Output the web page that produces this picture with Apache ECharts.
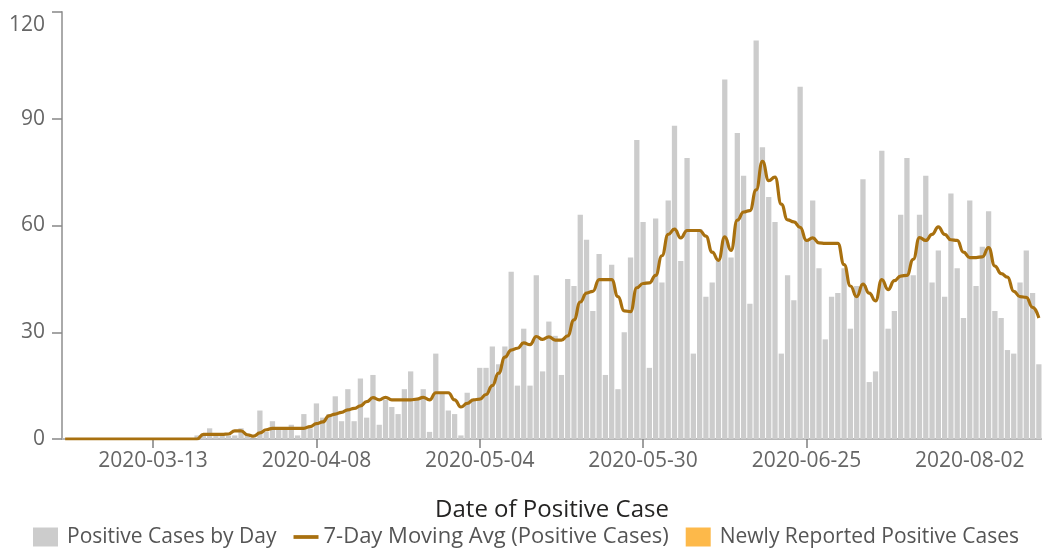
<!DOCTYPE html>
<html>
<head>
<meta charset="utf-8">
<style>
html,body{margin:0;padding:0;background:#fff;}
#chart{width:1042px;height:554px;}
</style>
<script src="https://cdn.jsdelivr.net/npm/echarts@6/dist/echarts.min.js"></script>
</head>
<body>
<div id="chart"></div>
<script>
// ---- data ----
var startDate = '2020-02-28';
var lastDate = '2020-08-13';
var skippedDates = ['2020-06-27','2020-06-28','2020-07-03','2020-07-04','2020-07-05','2020-07-11','2020-07-12','2020-07-18','2020-07-19','2020-07-25','2020-07-26','2020-08-01'];
var xTickLabels = ['2020-03-13','2020-04-08','2020-05-04','2020-05-30','2020-06-25','2020-08-02'];
var xTickMarks = ['2020-03-13','2020-04-08','2020-05-04','2020-05-30','2020-06-25'];
var yTicks = [0, 30, 60, 90, 120];

var positiveByDay = [
  0,0,0,0,0,0,0,0,0,0, 0,0,0,0,0,0,0,0,0,0,
  0,1,1,3,1,1,1,1,3,1, 0,8,2,5,3,3,4,1,7,3,
  10,6,7,12,5,14,5,17,6,18, 4,11,9,7,14,19,11,14,2,24,
  13,8,7,1,13,11,20,20,26,21, 26,47,15,31,15,46,19,33,29,18,
  45,43,63,56,36,52,18,49,14,30, 51,84,61,20,62,44,67,88,50,79,
  24,59,40,44,50,101,51,86,74,38, 112,82,68,61,24,46,39,99,56,67,
  48,28,40,41,48,31,43,73,16,19, 81,31,36,63,79,46,63,74,44,53,
  40,69,48,34,67,43,54,64,36,34, 25,24,44,53,41,21
];
var movingAvg7 = [
  0,0,0,0,0,0,0,0,0,0, 0,0,0,0,0,0,0,0,0,0,
  0,0,1.3,1.3,1.3,1.3,1.4,2.3,2.3,1.2, 0.8,1.7,2.6,3,3,3,3,3,3,3.5,
  4.3,4.8,6.5,7,7.5,8.2,8.6,9.3,10.5,11.6, 11,11.7,11,11,11,11,11.2,11.7,11,13,
  13,13,11,9,10,11,11.2,12.5,15,18.5, 23,25,25.5,27,26.5,28.8,28,28.7,27.8,27.8,
  29,33.5,38.5,41,41.5,44.8,44.8,44.8,40,36, 35.8,42.5,43.7,43.9,46,51.5,57.5,59,56.5,58.6,
  58.6,58.6,57,52.5,50.2,56.8,53,61.5,63.8,64.2, 70,78,72.6,73.6,66,61.6,61,59.5,55.8,56.5,
  55.1,55,55,55,49,43,40,43.5,41,38.8, 44.8,42,44.5,45.8,46,50.5,56.6,55.8,57.5,59.6,
  57.5,56,55.8,52.5,51,51,51.2,53.8,48.6,46.5, 45.5,41.5,40,39.8,37,34
];
var newlyReported = [];

// ---- categories (dates present in the data) ----
function buildDates(){
  var out = [];
  var d = new Date(startDate + 'T00:00:00Z');
  var end = new Date(lastDate + 'T00:00:00Z');
  while (d <= end) {
    var s = d.toISOString().slice(0,10);
    if (skippedDates.indexOf(s) < 0) out.push(s);
    d.setUTCDate(d.getUTCDate() + 1);
  }
  return out;
}
var categories = buildDates();

var font = 'Open Sans, Noto Sans, sans-serif';
var legendText = {fontFamily: font, fontSize: 21, color: '#555555', padding: [0,0,0,4]};
var chart = echarts.init(document.getElementById('chart'), null, {renderer:'canvas'});
chart.setOption({
  animation: false,
  backgroundColor: '#ffffff',
  textStyle: {fontFamily: font},
  grid: {left: 62, right: 0, top: 12, bottom: 115, containLabel: false},
  legend: {
    top: 526,
    left: 33,
    padding: 0,
    itemWidth: 25,
    itemHeight: 19,
    itemGap: 17,
    textStyle: legendText,
    data: [
      {name: 'Positive Cases by Day', icon: 'rect'},
      {name: '7-Day Moving Avg (Positive Cases)', icon: 'path://M0,0H20V3H0Z',
       textStyle: {fontFamily: font, fontSize: 22, color: '#555555', padding: [0,0,0,0]}},
      {name: 'Newly Reported Positive Cases', icon: 'rect'}
    ]
  },
  xAxis: {
    type: 'category',
    data: categories,
    boundaryGap: true,
    name: 'Date of Positive Case',
    nameLocation: 'middle',
    nameGap: 59,
    nameTextStyle: {fontFamily: font, fontSize: 24, color: '#252423'},
    axisLine: {lineStyle: {color: '#b8b8b8', width: 2}},
    axisTick: {
      show: true, alignWithLabel: true, length: 9,
      lineStyle: {color: '#808080', width: 1.5},
      interval: function(i, v){ return xTickMarks.indexOf(v) >= 0; }
    },
    axisLabel: {
      fontFamily: font, fontSize: 21, color: '#666666', margin: 12,
      interval: function(i, v){ return xTickLabels.indexOf(v) >= 0; }
    },
    splitLine: {show: false}
  },
  yAxis: {
    type: 'value',
    min: yTicks[0],
    max: yTicks[yTicks.length - 1],
    interval: yTicks[1] - yTicks[0],
    axisLine: {show: true, lineStyle: {color: '#aaaaaa', width: 2}},
    axisTick: {show: true, length: 10, lineStyle: {color: '#888888', width: 1.5}},
    splitLine: {show: false},
    axisLabel: {
      fontFamily: font, fontSize: 21, color: '#666666', margin: 17,
      formatter: function(v){ return v === yTicks[yTicks.length - 1] ? '{top|' + v + '}' : String(v); },
      rich: {top: {fontFamily: font, fontSize: 21, color: '#666666', padding: [26,0,0,0]}}
    }
  },
  series: [
    {
      name: 'Positive Cases by Day',
      type: 'bar',
      stack: 'cases',
      data: positiveByDay,
      barCategoryGap: '16%',
      itemStyle: {color: '#cccccc'},
      z: 2
    },
    {
      name: 'Newly Reported Positive Cases',
      type: 'bar',
      stack: 'cases',
      data: newlyReported,
      itemStyle: {color: '#fdb94a'},
      z: 2
    },
    {
      name: '7-Day Moving Avg (Positive Cases)',
      type: 'line',
      data: movingAvg7,
      symbol: 'none',
      smooth: 0.5,
      smoothMonotone: 'x',
      lineStyle: {color: '#a8700f', width: 3.2},
      itemStyle: {color: '#a8700f'},
      z: 5
    }
  ]
});
</script>
</body>
</html>
